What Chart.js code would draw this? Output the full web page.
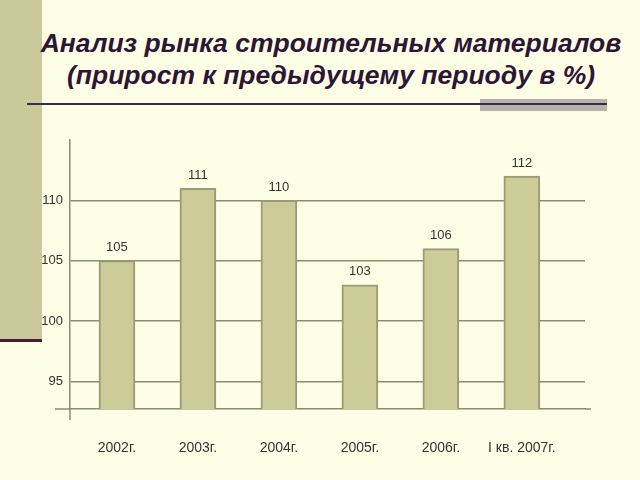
<!DOCTYPE html>
<html lang="ru">
<head>
    <meta charset="UTF-8">
    <title>Анализ рынка строительных материалов</title>
    <script src="https://cdn.jsdelivr.net/npm/chart.js"></script>
    <style>
        body, html {
            margin: 0;
            padding: 0;
            width: 640px;
            height: 480px;
            background-color: #fefee6;
            font-family: 'Liberation Sans', Arial, sans-serif;
            overflow: hidden;
        }
        .sidebar {
            position: absolute;
            left: 0;
            top: 0;
            width: 42px;
            height: 339px;
            background-color: #c9c99b;
        }
        .sidebar-line {
            position: absolute;
            left: 0;
            top: 339px;
            width: 42px;
            height: 3px;
            background-color: #4a1838;
        }
        .title {
            position: absolute;
            left: 20px;
            width: 622px;
            top: 27px;
            text-align: center;
            font-size: 26.5px;
            line-height: 32px;
            font-weight: bold;
            font-style: italic;
            color: #2d1535;
        }
        .rule {
            position: absolute;
            left: 27px;
            top: 103px;
            width: 580px;
            height: 2px;
            background-color: #3d2b4a;
            z-index: 2;
        }
        .rule-box {
            position: absolute;
            left: 480px;
            top: 99px;
            width: 127px;
            height: 12px;
            background-color: #b5b1ad;
        }
        .chart-box {
            position: absolute;
            left: 0;
            top: 0;
            width: 640px;
            height: 480px;
        }
    </style>
</head>
<body>
    <div class="sidebar"></div>
    <div class="sidebar-line"></div>
    <div class="title">Анализ рынка строительных материалов<br>(прирост к предыдущему периоду в %)</div>
    <div class="rule-box"></div>
    <div class="rule"></div>
    <div class="chart-box">
        <canvas id="growthChart" width="640" height="480"></canvas>
    </div>

    <script>
        // Данные с графика
        const categories = ['2002г.', '2003г.', '2004г.', '2005г.', '2006г.', 'I кв. 2007г.'];
        const growth = [105, 111, 110, 103, 106, 112];
        const yTicks = [95, 100, 105, 110];

        const axisColor = '#8c8c6c';
        const textColor = '#333333';

        // подписи значений над столбцами и продолжение осей
        const extras = {
            id: 'extras',
            beforeDatasetsDraw(chart) {
                const ctx = chart.ctx;
                const a = chart.chartArea;
                ctx.save();
                ctx.strokeStyle = axisColor;
                ctx.lineWidth = 1.5;
                ctx.beginPath();
                ctx.moveTo(a.left - 15, a.bottom);
                ctx.lineTo(a.left, a.bottom);
                ctx.moveTo(a.right, a.bottom);
                ctx.lineTo(a.right + 6, a.bottom);
                ctx.moveTo(a.left, a.bottom);
                ctx.lineTo(a.left, a.bottom + 11);
                ctx.stroke();
                ctx.restore();
            },
            afterDatasetsDraw(chart) {
                const ctx = chart.ctx;
                const meta = chart.getDatasetMeta(0);
                ctx.save();
                ctx.fillStyle = textColor;
                ctx.font = '13px "Liberation Sans", Arial, sans-serif';
                ctx.textAlign = 'center';
                ctx.textBaseline = 'middle';
                meta.data.forEach((bar, i) => {
                    ctx.fillText(String(growth[i]), bar.x, bar.y - 13);
                });
                ctx.restore();
            }
        };

        new Chart(document.getElementById('growthChart').getContext('2d'), {
            type: 'bar',
            data: {
                datasets: [{
                    data: growth.map((v, i) => ({ x: i, y: v })),
                    backgroundColor: '#cccc99',
                    borderColor: '#9a9a76',
                    borderWidth: 2,
                    borderSkipped: false,
                    barThickness: 36
                }]
            },
            options: {
                responsive: false,
                animation: false,
                layout: {
                    padding: { left: 0, right: 55, top: 140, bottom: 0 }
                },
                plugins: {
                    legend: { display: false },
                    tooltip: { enabled: false }
                },
                scales: {
                    x: {
                        type: 'linear',
                        offset: false,
                        min: -0.58,
                        max: 5.78,
                        afterBuildTicks: s => { s.ticks = categories.map((c, i) => ({ value: i })); },
                        afterFit: s => { s.height = 71; },
                        grid: { display: false, drawTicks: false, offset: false },
                        border: { display: true, color: axisColor, width: 1.5 },
                        ticks: {
                            padding: 31,
                            color: textColor,
                            font: { family: '"Liberation Sans", Arial, sans-serif', size: 14 },
                            callback: v => categories[v]
                        }
                    },
                    y: {
                        min: 92.7,
                        max: 115,
                        afterBuildTicks: s => { s.ticks = yTicks.map(v => ({ value: v })); },
                        afterFit: s => { s.width = 70; },
                        grid: { color: axisColor, lineWidth: 1.5, drawTicks: false },
                        border: { display: true, color: axisColor, width: 1.5 },
                        ticks: {
                            padding: 7,
                            color: textColor,
                            font: { family: '"Liberation Sans", Arial, sans-serif', size: 13 }
                        }
                    }
                }
            },
            plugins: [extras]
        });
    </script>
</body>
</html>
